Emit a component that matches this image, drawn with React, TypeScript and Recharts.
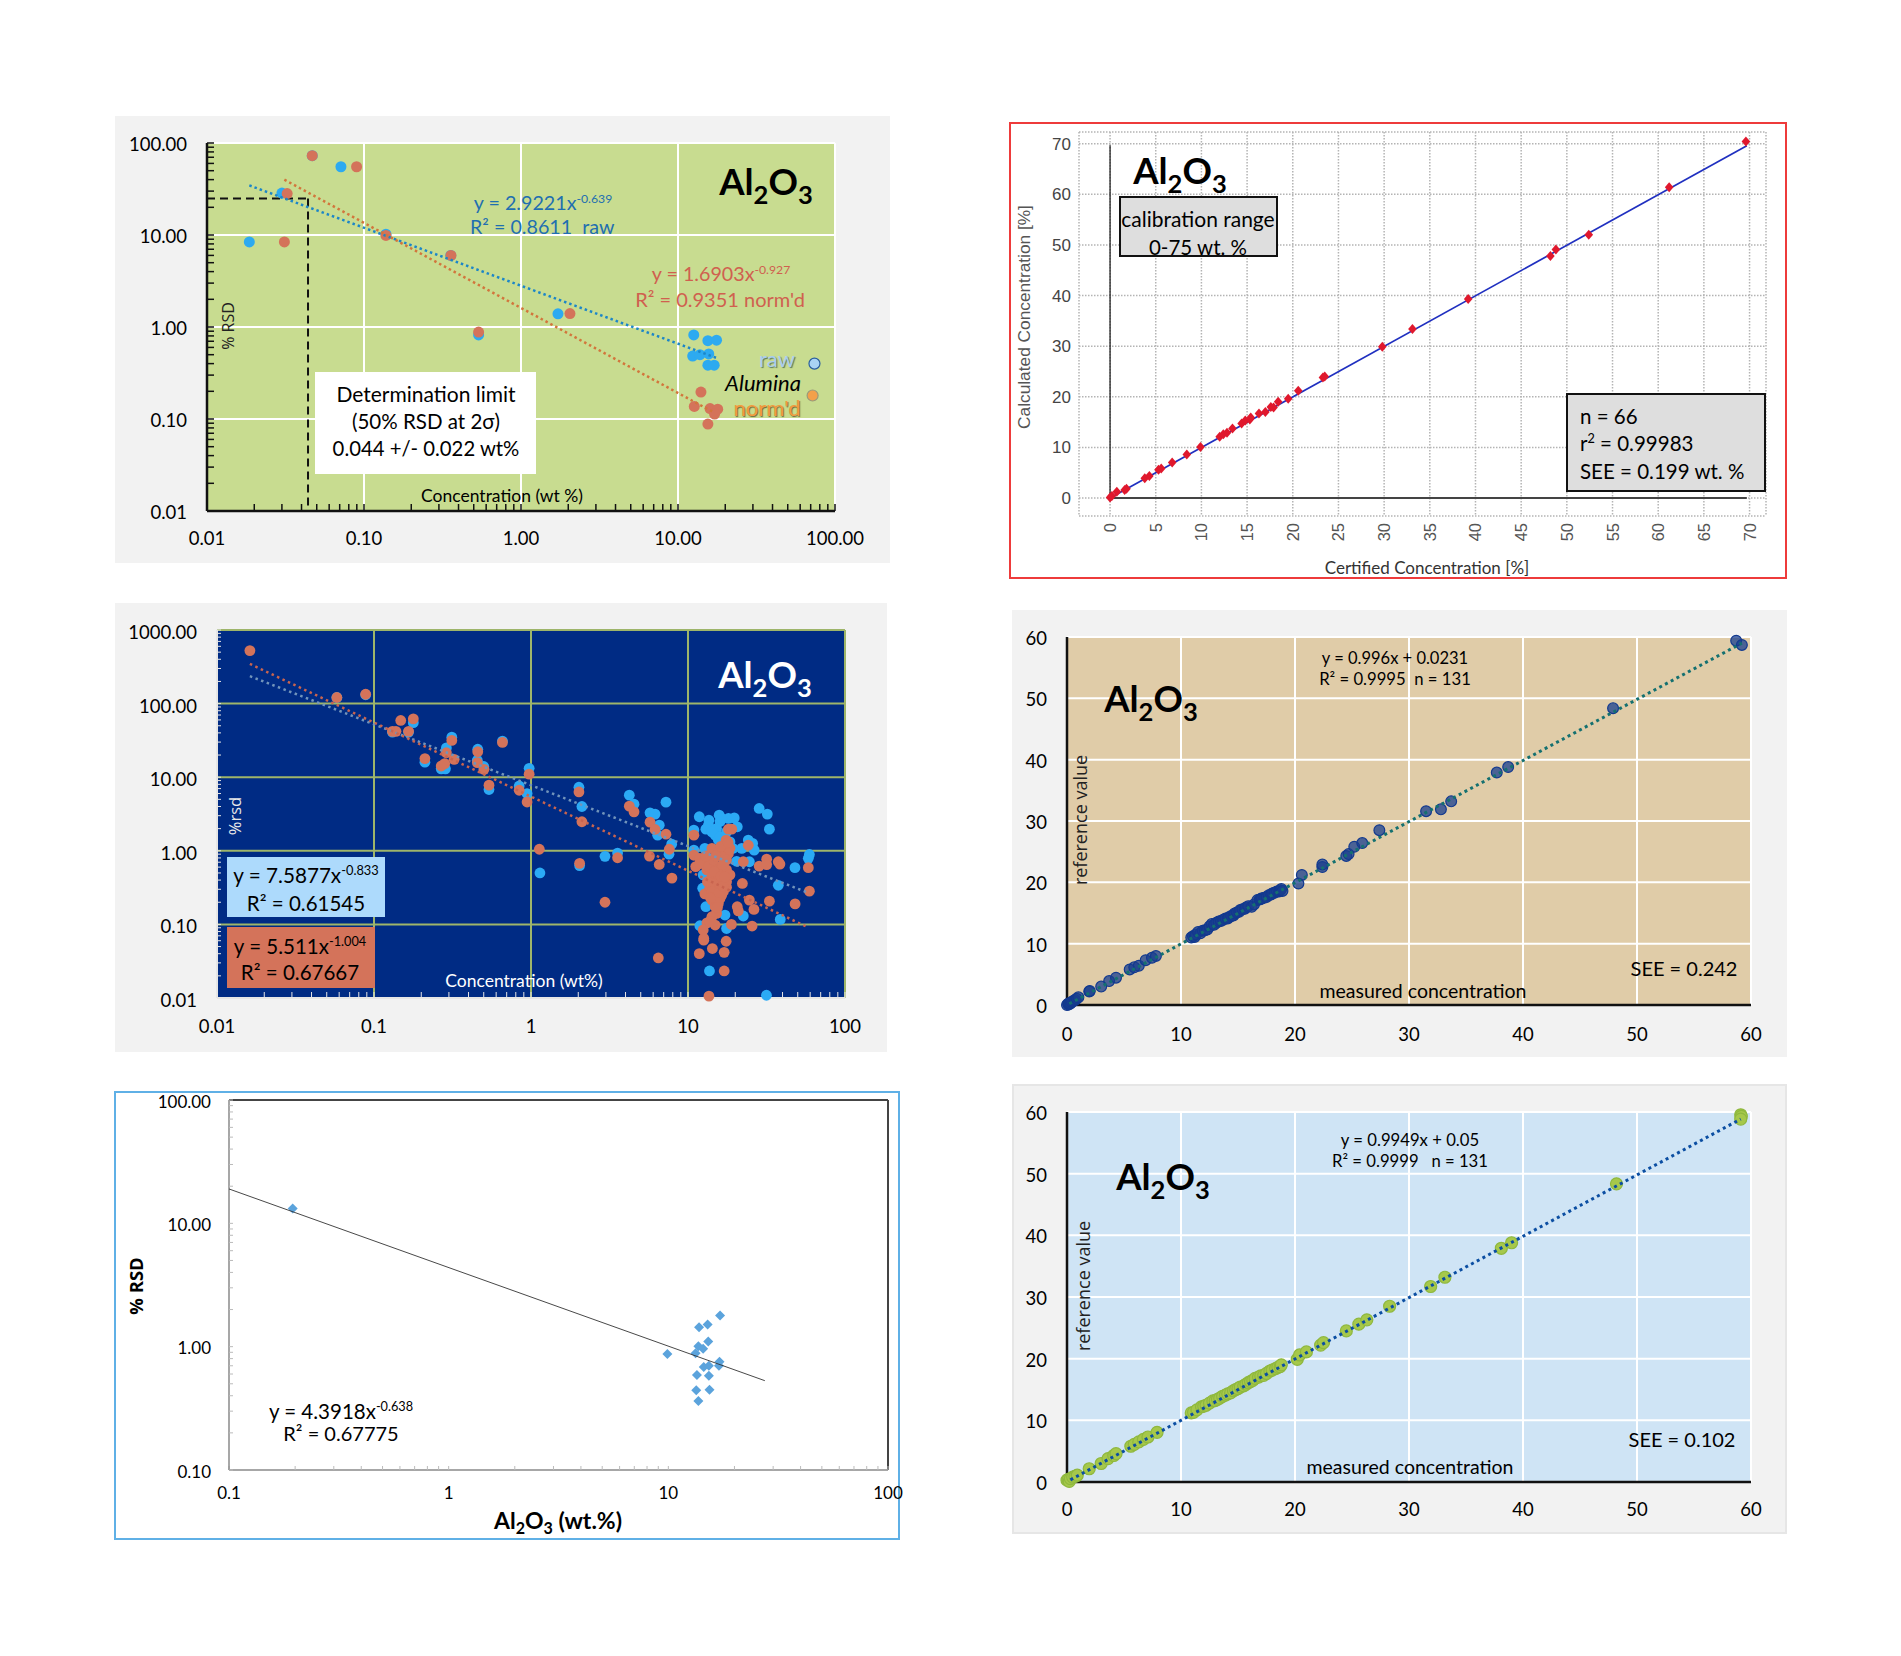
import type { ReactNode } from "react";
import {
  CartesianGrid,
  ReferenceLine,
  Scatter,
  ScatterChart,
  XAxis,
  YAxis,
} from "recharts";

type Pair = [number, number];
type Box = { l: number; t: number; r: number; b: number };

const LATO = "Lato, sans-serif";
const OPEN = "'Open Sans', sans-serif";
const ARIAL = "'Liberation Sans', sans-serif";

// ---- top left: Alumina raw / normalised, log-log
const raw1: Pair[] = [
  [0.0186, 8.4], [0.03, 28.6], [0.0468, 72.8], [0.0713, 55.2], [0.138, 10.2], [0.357, 6.0],
  [0.537, 0.82], [1.72, 1.39], [12.6, 0.82], [15.5, 0.71], [17.6, 0.72], [12.4, 0.483],
  [13.8, 0.5], [15.7, 0.51], [15.5, 0.385], [17, 0.385],
];
const norm1: Pair[] = [
  [0.0468, 72.8], [0.0897, 55.2], [0.0324, 28.2], [0.0311, 8.4], [0.138, 9.9], [0.358, 6.0],
  [0.537, 0.88], [2.05, 1.4], [14, 0.196], [12.7, 0.137], [16, 0.13], [17.9, 0.128],
  [17.1, 0.113], [15.5, 0.088],
];
const rawTrend1: Pair[] = [[0.0186, 34.6], [17.9, 0.456]];
const normTrend1: Pair[] = [[0.0311, 39.9], [16.6, 0.12]];
const rawKey1: Pair[] = [[74, 0.4]];
const normKey1: Pair[] = [[72, 0.18]];
const limitConc = 0.044;
const limitRsd = 25;

// ---- middle left: full data set, log-log
const raw3: Pair[] = [
  [0.058, 121], [0.0885, 132], [0.131, 41], [0.166, 41], [0.178, 55], [0.211, 16], [0.268, 13],
  [0.285, 13], [0.289, 25], [0.313, 35], [0.458, 24], [0.455, 17], [0.5, 14], [0.658, 31],
  [0.54, 6.8], [0.841, 7.6], [0.944, 6], [0.973, 13.2], [2.02, 7.3], [2.11, 4], [1.14, 0.5],
  [2.04, 0.63], [2.96, 0.84], [3.56, 0.93], [7.57, 0.9],
  [4.23, 5.7], [4.53, 4.3], [7.24, 4.58], [5.73, 3.28], [6.17, 3.15], [6.56, 2.23], [6.41, 1.63],
  [7.87, 1.23], [11.8, 2.9], [10.9, 1.91], [13.6, 2.6], [13.5, 2.23], [13, 1.97], [15.8, 3.05],
  [16, 2.5], [18.1, 2.75], [19.7, 2.8], [20.6, 2.12], [15.2, 2], [14.9, 1.63], [15.6, 1.4],
  [17.6, 1.8], [18.5, 1.32], [16.4, 2.75], [14.2, 1.8], [19.3, 1.08], [16, 1.55],
  [28.4, 3.76], [32, 3.15], [33, 1.97], [24.2, 1.4], [25.8, 1.26], [26.4, 1.02], [22, 1.08],
  [20.4, 0.72], [24.6, 0.71], [59.3, 0.89], [58.4, 0.79], [48, 0.59], [37.6, 0.34],
  [13, 0.174], [12.4, 0.31], [12.5, 0.47], [10.9, 1.02], [12.8, 1.08], [17.2, 0.134],
  [22.5, 0.13], [38.7, 0.117], [17.6, 0.088], [11.9, 0.096], [13.7, 0.0233], [31.6, 0.0109],
];
const norm3: Pair[] = [
  [0.0162, 525], [0.058, 121], [0.0885, 134], [0.148, 59], [0.178, 62], [0.131, 42], [0.138, 42],
  [0.166, 42], [0.211, 17.9], [0.268, 14.2], [0.282, 15.3], [0.289, 21.5], [0.313, 31.6],
  [0.324, 17.5], [0.458, 22.2], [0.455, 15.8], [0.502, 12.8], [0.658, 29.7], [0.54, 7.8],
  [0.841, 6.65], [0.944, 4.6], [0.973, 11], [2.02, 6.3], [2.11, 2.48], [1.13, 1.05], [2.04, 0.675],
  [2.96, 0.2], [3.56, 0.805], [4.23, 4.04], [4.53, 3.38], [5.73, 2.45], [5.68, 0.847], [6.17, 1.95],
  [7.24, 1.68], [7.6, 1.05], [6.56, 0.652], [7.9, 0.426], [6.47, 0.035],
  [10.9, 0.87], [11.9, 0.79], [11.2, 0.61], [12.8, 0.75], [13.8, 0.67], [14.9, 0.61], [13.2, 0.55],
  [16, 0.55], [17.6, 0.55], [18.5, 0.47], [14.2, 0.44], [15.6, 0.42], [16.8, 0.38], [14.5, 0.36],
  [17.6, 0.32], [15.6, 0.31], [13.5, 0.28], [16.8, 0.28], [14.9, 0.25], [12.8, 0.26], [16, 0.225],
  [14.2, 0.214], [15.6, 0.193], [14.9, 0.174], [15.2, 0.141], [14.2, 0.127], [13.2, 0.105],
  [14.9, 0.098], [12.5, 0.084], [12.6, 0.0645], [12.6, 0.061], [17.5, 1.4], [17.6, 1.19],
  [18.5, 1.08], [16.8, 1.02], [14.2, 1.08], [15.6, 0.97], [18.1, 0.92], [16.4, 0.83], [17.6, 0.75],
  [18.1, 1.97], [19, 1.97], [11.9, 0.67], [13.5, 0.61], [14.5, 0.75], [15.6, 0.49], [13.8, 0.32],
  [14.5, 0.26], [16.4, 0.25], [15.2, 0.214], [16, 0.31], [14.2, 0.28], [17.6, 0.38],
  [10.9, 1.63], [24.2, 1.19], [22.5, 0.71], [22.2, 0.36], [28.4, 0.62], [31.7, 0.77], [31.7, 0.65],
  [37.6, 0.71], [38.5, 0.66], [48.1, 0.19], [58.4, 0.59], [59.3, 0.283], [25.6, 0.095], [33, 0.207],
  [24.6, 0.214], [26.3, 0.16], [20.6, 0.174], [20.9, 0.153], [18.9, 0.1], [17.5, 0.059], [11.8, 0.04],
  [14.3, 0.047], [17, 0.0417], [17, 0.0233], [13.6, 0.0106],
  [14.7, 0.52], [16.2, 0.45], [16.6, 0.65], [15, 0.85], [13.3, 0.38], [13.9, 0.23], [15.8, 0.27],
  [16.7, 0.33], [17.2, 0.44], [16.2, 1.15], [18, 1.3], [13, 0.85], [15.4, 0.17], [13.8, 0.11],
];
const rawTrend3: Pair[] = [[0.0162, 236], [59.3, 0.265]];
const normTrend3: Pair[] = [[0.0162, 346], [58.5, 0.0907]];

// ---- bottom left: single set with power trend
const points5: Pair[] = [
  [0.195, 13.2], [9.9, 0.873], [13.3, 0.883], [13.7, 1.01], [14.4, 0.96], [13.8, 1.44], [15.1, 1.51],
  [15.2, 1.1], [17.2, 1.79], [17.1, 0.755], [17, 0.7], [14.5, 0.684], [15.3, 0.7], [13.5, 0.589],
  [15.3, 0.582], [13.4, 0.443], [15.4, 0.448], [13.7, 0.362],
];
const trend5: Pair[] = [[0.1, 19], [27.5, 0.53]];

// ---- top right: calibration
const points2: Pair[] = [
  [0, 0.1], [0.2, 0.4], [0.74, 1.25], [1.6, 1.6], [1.8, 1.85], [3.8, 3.9], [4.3, 4.35], [5.3, 5.6],
  [5.6, 5.85], [6.8, 7], [8.4, 8.6], [9.9, 10.1], [12, 12.1], [12.4, 12.6], [12.8, 12.9], [13.4, 13.75],
  [14.4, 14.7], [14.8, 15.3], [15.3, 15.5], [15.4, 15.9], [16.3, 16.7], [17, 17], [17.6, 18], [17.9, 17.9],
  [18.4, 19], [19.5, 19.6], [20.6, 21.2], [23.3, 23.8], [23.5, 24], [29.8, 29.9], [33.1, 33.4], [39.2, 39.3],
  [48.2, 47.8], [48.8, 49.1], [52.4, 52], [61.2, 61.4], [69.6, 70.4],
];
const fit2: Pair[] = [[0, 0], [69.7, 69.6]];

// ---- middle right: measured vs reference
const points4: Pair[] = [
  [0, 0], [0.1, 0.2], [0.15, 0.1], [0.2, 0.3], [0.3, 0.25], [0.4, 0.5], [0.55, 0.65], [0.7, 0.8], [0.85, 1],
  [1, 1.25], [1.95, 2.2], [2, 2.3], [3, 3], [3.7, 3.9], [4.3, 4.45], [5.5, 5.8], [5.9, 6.15], [6.3, 6.4],
  [6.9, 7.3], [7.45, 7.7], [7.8, 8],
  [10.9, 11], [11.05, 11.2], [11.2, 11.1], [11.3, 11.5], [11.5, 11.9], [11.7, 11.7], [11.9, 12.1], [12.1, 12.2],
  [12.3, 12.3], [12.5, 12.8], [12.7, 13.2], [12.9, 13.1], [13.1, 13.4], [13.3, 13.6], [13.5, 13.7], [13.7, 13.9],
  [13.9, 14.1], [14.1, 14.1], [14.2, 14.3], [14.4, 14.5], [14.6, 14.6], [14.7, 14.9], [14.9, 15.1], [15.1, 15.2],
  [15.2, 15.5], [15.4, 15.6], [15.6, 15.7], [15.7, 15.9], [15.9, 16.1], [16.2, 16], [16.4, 16.4], [16.7, 17.1],
  [16.9, 17.2], [17, 17.3], [17.1, 17.4], [17.3, 17.5], [17.5, 17.6], [17.7, 17.9], [17.9, 18], [18, 18.2],
  [18.2, 18.3], [18.4, 18.5], [18.6, 18.5], [18.7, 18.7], [18.8, 18.9], [18.9, 18.6], [20.3, 19.8], [20.6, 21.2],
  [22.4, 22.5], [22.4, 22.9], [24.5, 24.3], [24.7, 24.6], [25.2, 25.8], [25.9, 26.4], [27.4, 28.5], [31.5, 31.6],
  [32.8, 31.9], [33.7, 33.2], [37.7, 37.9], [38.7, 38.8], [47.9, 48.4], [58.7, 59.4], [59.2, 58.7],
];
const fit4: Pair[] = [[0.2, 0.2], [59.2, 59]];

// ---- bottom right: measured vs reference, normalised
const points6: Pair[] = [
  [0, 0.3], [0.1, 0.4], [0.2, 0.1], [0.3, 0.55], [0.5, 0.8], [0.7, 0.9], [0.9, 1.1], [1.95, 2.15], [3, 3],
  [3.6, 3.8], [4.1, 4.3], [4.3, 4.6], [5.6, 5.8], [5.9, 6.1], [6.3, 6.5], [6.7, 6.9], [7.1, 7.3], [7.9, 8.05],
  [10.9, 11.2], [11.1, 11.3], [11.4, 11.7], [11.8, 12.2], [12, 12.3], [12.2, 12.45], [12.5, 12.8], [12.8, 13.15],
  [13, 13.2], [13.2, 13.4], [13.4, 13.6], [13.65, 13.9], [13.9, 14.1], [14.1, 14.3], [14.35, 14.45], [14.6, 14.8],
  [14.8, 15], [15, 15.15], [15.2, 15.4], [15.5, 15.6], [15.7, 15.85], [15.9, 16.1], [16.1, 16.3], [16.3, 16.5],
  [16.5, 16.8], [16.8, 17], [17, 17.2], [17.25, 17.3], [17.5, 17.6], [17.8, 18], [18, 18.15], [18.3, 18.4],
  [18.5, 18.6], [18.7, 18.7], [18.8, 19], [20.2, 19.9], [20.4, 20.6], [21, 21.1], [22.25, 22.2], [22.5, 22.6],
  [24.5, 24.5], [25.6, 25.6], [26.3, 26.3], [28.3, 28.5], [31.9, 31.7], [33.15, 33.2], [38.1, 37.9], [39, 38.8],
  [48.2, 48.35], [59.1, 59.55], [59.15, 59.3], [59.1, 58.85],
];
const fit6: Pair[] = [[0.3, 0.35], [59.1, 58.85]];

// tick values and labels
const decades1 = [0.01, 0.1, 1, 10, 100];
const decadeLabels1 = ["0.01", "0.10", "1.00", "10.00", "100.00"];
const decadesY3 = [0.01, 0.1, 1, 10, 100, 1000];
const labelsY3 = ["0.01", "0.10", "1.00", "10.00", "100.00", "1000.00"];
const labelsX3 = ["0.01", "0.1", "1", "10", "100"];
const decadesX5 = [0.1, 1, 10, 100];
const labelsX5 = ["0.1", "1", "10", "100"];
const decadesY5 = [0.1, 1, 10, 100];
const labelsY5 = ["0.10", "1.00", "10.00", "100.00"];
const ticksX2 = [0, 5, 10, 15, 20, 25, 30, 35, 40, 45, 50, 55, 60, 65, 70];
const ticksY2 = [0, 10, 20, 30, 40, 50, 60, 70];
const ticks60 = [0, 10, 20, 30, 40, 50, 60];

// layout, page pixels
const panel1: Box = { l: 115, t: 116, r: 890, b: 563 };
const plot1: Box = { l: 207, t: 143, r: 835, b: 511 };
const panel2: Box = { l: 1009, t: 122, r: 1787, b: 579 };
const plot2: Box = { l: 1079, t: 132, r: 1766, b: 516 };
const panel3: Box = { l: 115, t: 603, r: 887, b: 1052 };
const plot3: Box = { l: 217, t: 630, r: 845, b: 998 };
const panel4: Box = { l: 1012, t: 610, r: 1787, b: 1057 };
const plot4: Box = { l: 1067, t: 637, r: 1751, b: 1005 };
const panel5: Box = { l: 114, t: 1091, r: 900, b: 1540 };
const plot5: Box = { l: 229, t: 1100, r: 888, b: 1470 };
const panel6: Box = { l: 1012, t: 1084, r: 1787, b: 1534 };
const plot6: Box = { l: 1067, t: 1112, r: 1751, b: 1482 };

const toXY = (rows: Pair[]) => rows.map(([x, y]) => ({ x, y }));

const logTicks = (decades: number[]) =>
  decades.flatMap((d, i) =>
    i === decades.length - 1 ? [d] : [1, 2, 3, 4, 5, 6, 7, 8, 9].map((k) => k * d),
  );

// chart covers the panel (a bit wider so the last x label is not cut)
function frame(panel: Box, plot: Box) {
  const extra = 30;
  return {
    width: panel.r - panel.l + extra,
    height: panel.b - panel.t,
    margin: {
      left: plot.l - panel.l - 50,
      right: panel.r - plot.r + extra,
      top: plot.t - panel.t,
      bottom: panel.b - plot.b - 40,
    },
    style: { position: "absolute" as const, left: panel.l, top: panel.t },
  };
}

// only the decades get a label, minor ticks stay bare
function logTick(values: number[], labels: string[], anchor: string, size: number, dy = 0) {
  const names: Record<number, string> = {};
  values.forEach((v, i) => (names[v] = labels[i]));
  return (p: any) =>
    names[p.payload.value] ? (
      <text
        x={p.x}
        y={p.y + dy}
        textAnchor={anchor}
        dominantBaseline="central"
        fontFamily={LATO}
        fontSize={size}
        fill="#000"
      >
        {names[p.payload.value]}
      </text>
    ) : (
      <g />
    );
}

// rotated x labels of the calibration plot, read from the top down
const uprightTick = (p: any) => (
  <text
    x={p.x}
    y={p.y}
    transform={`rotate(-90 ${p.x} ${p.y})`}
    textAnchor="end"
    dominantBaseline="central"
    fontFamily={ARIAL}
    fontSize={16.5}
    fill="#555"
  >
    {p.payload.value}
  </text>
);

const dot = (r: number, fill: string, stroke = "none", opacity = 1) => (p: any) => (
  <circle cx={p.cx} cy={p.cy} r={r} fill={fill} stroke={stroke} fillOpacity={opacity} strokeWidth={1.2} />
);
const diamond = (rx: number, ry: number, fill: string) => (p: any) => (
  <polygon
    points={`${p.cx},${p.cy - ry} ${p.cx + rx},${p.cy} ${p.cx},${p.cy + ry} ${p.cx - rx},${p.cy}`}
    fill={fill}
  />
);
const noMark = () => <g />;

function Note(props: {
  x: number;
  y: number;
  size: number;
  color?: string;
  font?: string;
  bold?: boolean;
  italic?: boolean;
  rotate?: boolean;
  left?: boolean;
  shadow?: string;
  children: ReactNode;
}) {
  const { x, y, size, color = "#000", font = LATO, bold, italic, rotate, left, shadow, children } = props;
  return (
    <div
      style={{
        position: "absolute",
        left: x,
        top: y,
        transform: `translate(${left ? "0" : "-50%"}, -50%)${rotate ? " rotate(-90deg)" : ""}`,
        fontFamily: font,
        fontSize: size,
        color,
        fontWeight: bold ? 700 : 400,
        fontStyle: italic ? "italic" : "normal",
        textShadow: shadow,
        whiteSpace: "pre",
        lineHeight: 1,
      }}
    >
      {children}
    </div>
  );
}

const Low = ({ children }: { children: ReactNode }) => (
  <span style={{ fontSize: "0.7em", lineHeight: 0, verticalAlign: "-0.36em" }}>{children}</span>
);
const High = ({ children }: { children: ReactNode }) => (
  <sup style={{ fontSize: "0.62em", lineHeight: 0 }}>{children}</sup>
);
const Title = ({ x, y, color = "#000" }: { x: number; y: number; color?: string }) => (
  <Note x={x} y={y} size={36.5} bold color={color}>
    Al<Low>2</Low>O<Low>3</Low>
  </Note>
);

function Panel({ box, fill, border }: { box: Box; fill: string; border?: string }) {
  return (
    <div
      style={{
        position: "absolute",
        left: box.l,
        top: box.t,
        width: box.r - box.l,
        height: box.b - box.t,
        boxSizing: "border-box",
        background: fill,
        border: border ? `2px solid ${border}` : undefined,
      }}
    />
  );
}

function TextBox({ box, fill }: { box: Box; fill: string }) {
  return (
    <div
      style={{
        position: "absolute",
        left: box.l,
        top: box.t,
        width: box.r - box.l,
        height: box.b - box.t,
        boxSizing: "border-box",
        background: fill,
        border: fill === "#dedede" ? "2px solid #111" : undefined,
      }}
    />
  );
}

function TopLeft() {
  const ticks = logTicks(decades1);
  return (
    <ScatterChart {...frame(panel1, plot1)}>
      <CartesianGrid
        fill="#c8dc90"
        stroke="#ffffff"
        strokeWidth={2}
        horizontalValues={decades1}
        verticalValues={decades1}
      />
      <XAxis
        type="number"
        dataKey="x"
        scale="log"
        domain={[0.01, 100]}
        ticks={ticks}
        interval={0}
        height={40}
        tickSize={-7}
        tickMargin={34}
        axisLine={{ stroke: "#111", strokeWidth: 2.5 }}
        tickLine={{ stroke: "#111", strokeWidth: 1.5 }}
        tick={logTick(decades1, decadeLabels1, "middle", 18.5)}
      />
      <YAxis
        type="number"
        dataKey="y"
        scale="log"
        domain={[0.01, 100]}
        ticks={ticks}
        interval={0}
        width={50}
        tickSize={-7}
        tickMargin={27}
        axisLine={{ stroke: "#111", strokeWidth: 2.5 }}
        tickLine={{ stroke: "#111", strokeWidth: 1.5 }}
        tick={logTick(decades1, decadeLabels1, "end", 18.5, 0.5)}
      />
      <ReferenceLine
        segment={[{ x: 0.01, y: limitRsd }, { x: limitConc, y: limitRsd }]}
        stroke="#111"
        strokeWidth={2}
        strokeDasharray="8 5"
      />
      <ReferenceLine
        segment={[{ x: limitConc, y: limitRsd }, { x: limitConc, y: 0.01 }]}
        stroke="#111"
        strokeWidth={2}
        strokeDasharray="8 5"
      />
      <Scatter data={toXY(raw1)} shape={dot(5.5, "#2daaf0")} isAnimationActive={false} />
      <Scatter data={toXY(norm1)} shape={dot(5.5, "#d4735a")} isAnimationActive={false} />
      <Scatter
        data={toXY(rawTrend1)}
        shape={noMark}
        line={{ stroke: "#1c86c8", strokeWidth: 2.5, strokeDasharray: "2.5 3" }}
        isAnimationActive={false}
      />
      <Scatter
        data={toXY(normTrend1)}
        shape={noMark}
        line={{ stroke: "#d2763c", strokeWidth: 2.5, strokeDasharray: "2.5 3" }}
        isAnimationActive={false}
      />
      <Scatter data={toXY(rawKey1)} shape={dot(5.5, "#a9d4f5", "#2a5f9e")} isAnimationActive={false} />
      <Scatter data={toXY(normKey1)} shape={dot(5.5, "#f3a04a", "#9a9a7a")} isAnimationActive={false} />
    </ScatterChart>
  );
}

function MidLeft() {
  const axis = { stroke: "#e6e6e6", strokeWidth: 2 };
  return (
    <ScatterChart {...frame(panel3, plot3)}>
      <CartesianGrid
        fill="#002b84"
        stroke="#9eb56a"
        strokeWidth={2}
        horizontalValues={decadesY3.slice(1)}
        verticalValues={decades1.slice(1)}
      />
      <XAxis
        type="number"
        dataKey="x"
        scale="log"
        domain={[0.01, 100]}
        ticks={logTicks(decades1)}
        interval={0}
        height={40}
        tickSize={-6}
        tickMargin={34}
        axisLine={axis}
        tickLine={{ stroke: "#e6e6e6", strokeWidth: 1 }}
        tick={logTick(decades1, labelsX3, "middle", 18.5)}
      />
      <YAxis
        type="number"
        dataKey="y"
        scale="log"
        domain={[0.01, 1000]}
        ticks={logTicks(decadesY3)}
        interval={0}
        width={50}
        tickSize={-4}
        tickMargin={24}
        axisLine={axis}
        tickLine={{ stroke: "#e6e6e6", strokeWidth: 1 }}
        tick={logTick(decadesY3, labelsY3, "end", 18.5, 2)}
      />
      <Scatter data={toXY(raw3)} shape={dot(5.4, "#2baaf5")} isAnimationActive={false} />
      <Scatter data={toXY(norm3)} shape={dot(5.4, "#d4735a")} isAnimationActive={false} />
      <Scatter
        data={toXY(rawTrend3)}
        shape={noMark}
        line={{ stroke: "#7194bb", strokeWidth: 2.5, strokeDasharray: "2.5 3.5" }}
        isAnimationActive={false}
      />
      <Scatter
        data={toXY(normTrend3)}
        shape={noMark}
        line={{ stroke: "#c8644f", strokeWidth: 2.5, strokeDasharray: "2.5 3.5" }}
        isAnimationActive={false}
      />
    </ScatterChart>
  );
}

function BottomLeft() {
  const thin = { stroke: "#8a8a8a", strokeWidth: 1.5 };
  return (
    <ScatterChart {...frame(panel5, plot5)}>
      <CartesianGrid stroke="#444" strokeWidth={2} horizontalValues={[100]} verticalValues={[100]} />
      <XAxis
        type="number"
        dataKey="x"
        scale="log"
        domain={[0.1, 100]}
        ticks={logTicks(decadesX5)}
        interval={0}
        height={40}
        tickSize={-4}
        tickMargin={26}
        axisLine={thin}
        tickLine={{ stroke: "#bbb" }}
        tick={logTick(decadesX5, labelsX5, "middle", 17)}
      />
      <YAxis
        type="number"
        dataKey="y"
        scale="log"
        domain={[0.1, 100]}
        ticks={logTicks(decadesY5)}
        interval={0}
        width={50}
        tickSize={-4}
        tickMargin={22}
        axisLine={thin}
        tickLine={{ stroke: "#bbb" }}
        tick={logTick(decadesY5, labelsY5, "end", 17, 1)}
      />
      <Scatter data={toXY(points5)} shape={diamond(5, 5, "#5ba3dc")} isAnimationActive={false} />
      <Scatter
        data={toXY(trend5)}
        shape={noMark}
        line={{ stroke: "#333", strokeWidth: 0.9 }}
        isAnimationActive={false}
      />
    </ScatterChart>
  );
}

function TopRight() {
  return (
    <ScatterChart {...frame(panel2, plot2)}>
      <CartesianGrid
        stroke="#b4b4b4"
        strokeWidth={1.5}
        strokeDasharray="1.5 1.5"
        horizontalValues={[-3.55, ...ticksY2, 72.3]}
        verticalValues={[-3.4, ...ticksX2, 71.8]}
      />
      <XAxis
        type="number"
        dataKey="x"
        domain={[-3.4, 71.8]}
        ticks={ticksX2}
        interval={0}
        height={40}
        tickLine={false}
        axisLine={false}
        tickSize={0}
        tickMargin={7}
        tick={uprightTick}
      />
      <YAxis
        type="number"
        dataKey="y"
        domain={[-3.55, 72.3]}
        ticks={ticksY2}
        interval={0}
        width={50}
        tickLine={false}
        axisLine={false}
        tickSize={0}
        tickMargin={8}
        tick={{ fontSize: 17, fontFamily: ARIAL, fill: "#444" }}
      />
      <ReferenceLine segment={[{ x: 0, y: 0 }, { x: 0, y: 69.7 }]} stroke="#111" strokeWidth={1.2} />
      <ReferenceLine segment={[{ x: 0, y: 0 }, { x: 69.7, y: 0 }]} stroke="#444" strokeWidth={2} />
      <Scatter
        data={toXY(fit2)}
        shape={noMark}
        line={{ stroke: "#2030c0", strokeWidth: 1.7 }}
        isAnimationActive={false}
      />
      <Scatter data={toXY(points2)} shape={diamond(4.3, 5, "#e0182d")} isAnimationActive={false} />
    </ScatterChart>
  );
}

function Measured(props: {
  panel: Box;
  plot: Box;
  fill: string;
  rows: Pair[];
  fit: Pair[];
  mark: (p: any) => ReactNode;
  lineColor: string;
  xGap: number;
}) {
  const { panel, plot, fill, rows, fit, mark, lineColor, xGap } = props;
  return (
    <ScatterChart {...frame(panel, plot)}>
      <CartesianGrid
        fill={fill}
        stroke="#ffffff"
        strokeWidth={2}
        horizontalValues={ticks60.slice(1)}
        verticalValues={ticks60.slice(1)}
      />
      <XAxis
        type="number"
        dataKey="x"
        domain={[0, 60]}
        ticks={ticks60}
        interval={0}
        height={40}
        tickLine={false}
        axisLine={{ stroke: "#111", strokeWidth: 2.5 }}
        tickMargin={xGap}
        tick={{ fontSize: 18.5, fontFamily: LATO, fill: "#000" }}
      />
      <YAxis
        type="number"
        dataKey="y"
        domain={[0, 60]}
        ticks={ticks60}
        interval={0}
        width={50}
        tickLine={false}
        axisLine={{ stroke: "#111", strokeWidth: 2.5 }}
        tickMargin={14}
        tick={{ fontSize: 18.5, fontFamily: LATO, fill: "#000", dy: 1.5 }}
      />
      <Scatter data={toXY(rows)} shape={mark as any} isAnimationActive={false} />
      <Scatter
        data={toXY(fit)}
        shape={noMark}
        line={{ stroke: lineColor, strokeWidth: 3, strokeDasharray: "3 3.5" }}
        isAnimationActive={false}
      />
    </ScatterChart>
  );
}

export default function App() {
  return (
    <div style={{ position: "absolute", left: 0, top: 0, width: 1901, height: 1656, background: "#fff", overflow: "hidden" }}>
      <Panel box={panel1} fill="#f2f2f2" />
      <Panel box={panel2} fill="#ffffff" border="#ee3b3b" />
      <Panel box={panel3} fill="#f2f2f2" />
      <Panel box={panel4} fill="#f2f2f2" />
      <Panel box={panel5} fill="#ffffff" border="#5fb0e6" />
      <Panel box={panel6} fill="#f2f2f2" border="#e6e6e6" />

      <TopLeft />
      <TopRight />
      <MidLeft />
      <Measured
        panel={panel4}
        plot={plot4}
        fill="#e0cca8"
        rows={points4}
        fit={fit4}
        mark={dot(5.4, "#1a3f8f", "#12398f", 0.75)}
        lineColor="#147070"
        xGap={17}
      />
      <BottomLeft />
      <Measured
        panel={panel6}
        plot={plot6}
        fill="#cfe4f5"
        rows={points6}
        fit={fit6}
        mark={dot(6, "#a6c84b", "#8fb83e")}
        lineColor="#0b4ea2"
        xGap={15}
      />

      {/* top left notes */}
      <Title x={766} y={181} />
      <Note x={543} y={203} size={19.7} color="#1f6fb0">
        y = 2.9221x<High>-0.639</High>
      </Note>
      <Note x={470} y={227} size={19.7} color="#1f6fb0" left>
        R² = 0.8611  raw
      </Note>
      <Note x={721} y={274} size={19.7} color="#d0604f">
        y = 1.6903x<High>-0.927</High>
      </Note>
      <Note x={720} y={299} size={20} color="#d0604f">
        R² = 0.9351 norm'd
      </Note>
      <TextBox box={{ l: 315, t: 372, r: 536, b: 474 }} fill="#ffffff" />
      <Note x={426} y={393} size={21}>Determination limit</Note>
      <Note x={426} y={421} size={20.5}>(50% RSD at 2σ)</Note>
      <Note x={426} y={448} size={20.3}>0.044 +/- 0.022 wt%</Note>
      <Note x={502} y={496} size={17.5}>Concentration (wt %)</Note>
      <Note x={228} y={326} size={16} font={OPEN} color="#222" rotate>% RSD</Note>
      <Note x={777} y={359} size={22} color="#a9cdee" shadow="1px 1px 1px #5a7a5a">raw</Note>
      <Note x={763} y={383} size={22} italic>Alumina</Note>
      <Note x={767} y={408} size={22} color="#f39a3e" shadow="1px 1px 1px #6a6a3a">norm'd</Note>

      {/* top right notes */}
      <Title x={1180} y={170} />
      <TextBox box={{ l: 1119, t: 196, r: 1278, b: 257 }} fill="#dedede" />
      <Note x={1198} y={218} size={21}>calibration range</Note>
      <Note x={1198} y={247} size={20.5}>0-75 wt. %</Note>
      <TextBox box={{ l: 1566, t: 393, r: 1766, b: 492 }} fill="#dedede" />
      <Note x={1580} y={416} size={20.5} left>n = 66</Note>
      <Note x={1580} y={443} size={20.5} left>
        r<High>2</High> = 0.99983
      </Note>
      <Note x={1580} y={471} size={20.5} left>SEE = 0.199 wt. %</Note>
      <Note x={1025} y={317} size={17.3} font={ARIAL} color="#555" rotate>
        Calculated Concentration [%]
      </Note>
      <Note x={1427} y={567} size={17} color="#333">Certified Concentration [%]</Note>

      {/* middle left notes */}
      <Title x={765} y={674} color="#ffffff" />
      <TextBox box={{ l: 227, t: 857, r: 385, b: 917 }} fill="#addafc" />
      <Note x={306} y={875} size={20.7}>
        y = 7.5877x<High>-0.833</High>
      </Note>
      <Note x={306} y={903} size={20.5}>R² = 0.61545</Note>
      <TextBox box={{ l: 227, t: 927, r: 375, b: 988 }} fill="#d4735a" />
      <Note x={300} y={946} size={20.5}>
        y = 5.511x<High>-1.004</High>
      </Note>
      <Note x={300} y={972} size={20.5}>R² = 0.67667</Note>
      <Note x={524} y={981} size={17.5} color="#ffffff">Concentration (wt%)</Note>
      <Note x={235} y={816} size={16.5} font={OPEN} color="#e8e8e8" rotate>%rsd</Note>

      {/* middle right notes */}
      <Title x={1151} y={698} />
      <Note x={1395} y={658} size={16.5}>y = 0.996x + 0.0231</Note>
      <Note x={1395} y={679} size={16.7}>R² = 0.9995  n = 131</Note>
      <Note x={1080} y={820} size={18} font={OPEN} color="#222" rotate>reference value</Note>
      <Note x={1684} y={968} size={20}>SEE = 0.242</Note>
      <Note x={1423} y={991} size={19.5}>measured concentration</Note>

      {/* bottom left notes */}
      <Note x={341} y={1411} size={20.5}>
        y = 4.3918x<High>-0.638</High>
      </Note>
      <Note x={341} y={1433} size={20}>R² = 0.67775</Note>
      <Note x={136} y={1286} size={18.5} font={OPEN} bold rotate>% RSD</Note>
      <Note x={558} y={1520} size={23} bold>
        Al<Low>2</Low>O<Low>3</Low> (wt.%)
      </Note>

      {/* bottom right notes */}
      <Title x={1163} y={1176} />
      <Note x={1410} y={1140} size={16.7}>y = 0.9949x + 0.05</Note>
      <Note x={1410} y={1161} size={16.7}>R² = 0.9999   n = 131</Note>
      <Note x={1083} y={1286} size={18} font={OPEN} color="#222" rotate>reference value</Note>
      <Note x={1682} y={1439} size={20}>SEE = 0.102</Note>
      <Note x={1410} y={1467} size={19.5}>measured concentration</Note>
    </div>
  );
}
